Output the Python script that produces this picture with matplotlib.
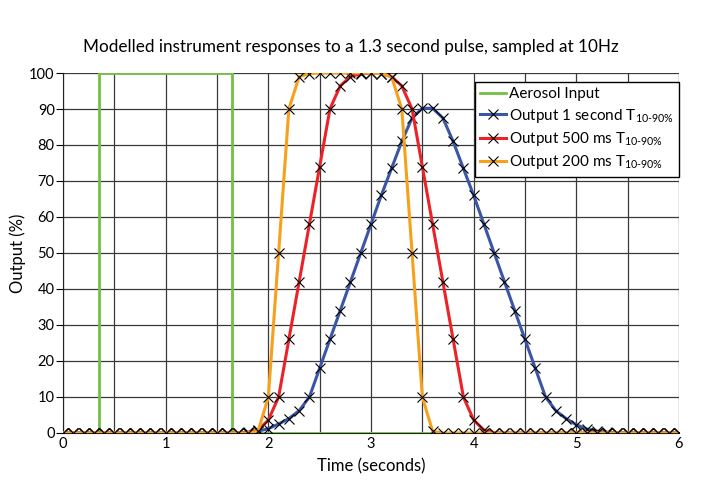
import numpy as np
import matplotlib
matplotlib.use("Agg")
import matplotlib.pyplot as plt

plt.rcParams['font.family'] = ['Lato', 'DejaVu Sans']
plt.rcParams['mathtext.fontset'] = 'custom'
plt.rcParams['mathtext.rm'] = 'Lato'
plt.rcParams['mathtext.it'] = 'Lato'
plt.rcParams['mathtext.default'] = 'regular'

# time axis, sampled at 10 Hz
t = np.round(np.arange(61) * 0.1, 1)

# aerosol input pulse (step edges)
pulse_t = [0, 0.35, 0.35, 1.65, 1.65, 6]
pulse_y = [0, 0, 100, 100, 0, 0]

out_1s = [0] * 18 + [0.2, 0.5, 1.2, 2.5, 4.0, 6.2, 10, 18, 26, 34, 42, 50, 58, 66, 73.5, 81,
                     87.5, 90.2, 90.2, 87.5, 81, 73.5, 66, 58, 50, 42, 34, 26, 18, 10,
                     6.2, 4.0, 2.3, 1.1, 0.5, 0.2] + [0] * 7
out_500ms = [0] * 18 + [0.1, 0.8, 3.6, 10, 26, 42, 58, 74, 90, 96.4, 99, 99.8, 100,
                        99.8, 99, 96.4, 90, 74, 58, 42, 26, 10, 3.6, 0.8, 0.1] + [0] * 18
out_200ms = [0] * 19 + [0.5, 10, 50, 90, 99, 99.8, 100, 100, 100, 100, 100, 100,
                        99.8, 99, 90, 50, 10, 0.5] + [0] * 24

sub = r'$_{10\text{-}90\%}$'
labels = ['Aerosol Input', 'Output 1 second T' + sub, 'Output 500 ms T' + sub, 'Output 200 ms T' + sub]
colors = ['#72bf44', '#3a56a5', '#ec2227', '#f7a01c']

fig = plt.figure(figsize=(7.01, 4.99), dpi=100)
ax = fig.add_axes([0.0899, 0.1323, 0.8787, 0.7214])

ax.plot(pulse_t, pulse_y, color=colors[0], lw=2, label=labels[0], zorder=3)
for ys, c, lab in zip([out_1s, out_500ms, out_200ms], colors[1:], labels[1:]):
    ax.plot(t, ys, color=c, lw=2.2, marker='x', ms=7.5, mec='black', mew=0.8,
            label=lab, zorder=4, solid_joinstyle='round')

ax.set_xlim(0, 6)
ax.set_ylim(0, 100)
ax.set_xticks(range(7))
ax.set_xticks(np.arange(0.5, 6, 1), minor=True)
ax.set_yticks(range(0, 101, 10))
ax.grid(True, which='both', color='#3a3a3a', lw=0.9)
ax.set_axisbelow(True)
for s in ['top', 'right']:
    ax.spines[s].set_visible(False)
ax.spines['left'].set_color('#222222')
ax.spines['bottom'].set_color('#222222')
ax.tick_params(axis='y', length=5, labelsize=10.5, pad=1)
ax.tick_params(axis='x', which='both', length=0, labelsize=10.5, pad=3)

ax.set_xlabel('Time (seconds)', fontsize=12, labelpad=5)
ax.set_ylabel('Output (%)', fontsize=12, labelpad=2)
fig.text(0.5, 0.905, 'Modelled instrument responses to a 1.3 second pulse, sampled at 10Hz',
         ha='center', va='center', fontsize=12.3)

leg = ax.legend(loc='upper right', bbox_to_anchor=(1.0, 0.975), borderaxespad=0,
                fontsize=11, frameon=True, fancybox=False, handlelength=1.7,
                handletextpad=0.15, labelspacing=0.35, borderpad=0.35)
leg.get_frame().set_edgecolor('black')
leg.get_frame().set_linewidth(1)
leg.get_frame().set_alpha(1)

fig.savefig('out.png', dpi=100)
